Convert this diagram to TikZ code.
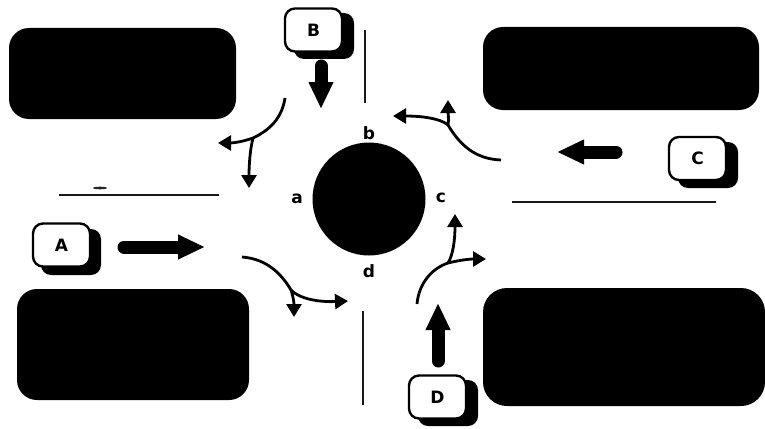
\documentclass[tikz,border=0pt]{standalone}
\usepackage{fontspec}
\setmainfont{DejaVu Sans}
\usetikzlibrary{arrows.meta}
\tikzset{
  block/.style={fill=black,draw=none,rounded corners=20pt,inner sep=0pt},
  road/.style={line width=2pt,draw=black!90},
  tag/.style={fill=white,draw=black,line width=2.4pt,rounded corners=10pt,inner sep=0pt,minimum width=57pt,minimum height=43pt,font=\fontsize{17}{17}\selectfont\bfseries},
  tagshadow/.style={fill=black,draw=none,rounded corners=10pt,inner sep=0pt,minimum width=60pt,minimum height=46pt},
  flow/.style={line width=13pt,line cap=round,-{Triangle[length=27pt,width=23pt]}},
  turn/.style={line width=2.8pt,-{Triangle[length=13pt,width=15pt]}},
  corner/.style={font=\fontsize{17}{17}\selectfont\bfseries,inner sep=0pt}
}
\begin{document}
\begin{tikzpicture}[x=1pt,y=-1pt]
\useasboundingbox (0,0) rectangle (765,428);
% blocks
\node[block,minimum width=227pt,minimum height=91pt] (tl) at (122.5,73.5) {};
\node[block,minimum width=276pt,minimum height=83pt] (tr) at (621,68.5) {};
\node[block,minimum width=232pt,minimum height=111pt] (bl) at (133,344.5) {};
\node[block,minimum width=282pt,minimum height=118pt,rounded corners=24pt] (br) at (624,347) {};
% roundabout
\node[circle,fill=black,inner sep=0pt,minimum size=113pt] (hub) at (369,199) {};
\node[corner] (la) at (297,199) {a};
\node[corner] (lb) at (369,133) {b};
\node[corner] (lc) at (441,198) {c};
\node[corner] (ld) at (369,271) {d};
% road edges
\coordinate (r1a) at (59,195); \coordinate (r1b) at (219,195);
\coordinate (r2a) at (512,202); \coordinate (r2b) at (716,202);
\coordinate (r3a) at (365,30); \coordinate (r3b) at (365,103);
\coordinate (r4a) at (363,311); \coordinate (r4b) at (363,405);
\draw[road] (r1a) -- (r1b);
\draw[road] (r2a) -- (r2b);
\draw[road] (r3a) -- (r3b);
\draw[road] (r4a) -- (r4b);
% tags
\node[tagshadow] (sa) at (71,252) {};
\node[tag] (A) at (61.5,245) {A};
\node[tagshadow] (sb) at (324,36) {};
\node[tag] (B) at (313.5,30) {B};
\node[tagshadow] (sc) at (708,165) {};
\node[tag] (C) at (697.5,158.5) {C};
\node[tagshadow] (sd) at (448,403) {};
\node[tag] (D) at (437.5,397) {D};
% flow arrows
\coordinate (fa0) at (124,247); \coordinate (fa1) at (205,247);
\coordinate (fb0) at (321,66); \coordinate (fb1) at (321,109);
\coordinate (fc0) at (616,152); \coordinate (fc1) at (557,152);
\coordinate (fd0) at (438,361); \coordinate (fd1) at (438,303);
\draw[flow] (fa0) -- (fa1);
\draw[flow] (fb0) -- (fb1);
\draw[flow] (fc0) -- (fc1);
\draw[flow] (fd0) -- (fd1);
% turning movements
\coordinate (ta0) at (242,257); \coordinate (taj) at (291,290); \coordinate (ta1) at (348,301); \coordinate (ta2) at (294,317);
\draw[turn] (ta0) .. controls (268,259) and (282,275) .. (taj) .. controls (302,301) and (325,302) .. (ta1);
\draw[turn] (taj) .. controls (293,296) and (294,302) .. (ta2);
\coordinate (tb0) at (285,98); \coordinate (tbj) at (253,138); \coordinate (tb1) at (218,143); \coordinate (tb2) at (249,188);
\draw[turn] (tb0) .. controls (282,118) and (270,130) .. (tbj) .. controls (242,142) and (232,143) .. (tb1);
\draw[turn] (tbj) .. controls (250,150) and (249,165) .. (tb2);
\coordinate (tc0) at (501,160); \coordinate (tcj) at (448,125); \coordinate (tc1) at (393,116); \coordinate (tc2) at (448,100);
\draw[turn] (tc0) .. controls (475,159) and (460,145) .. (tcj) .. controls (440,118) and (420,116) .. (tc1);
\draw[turn] (tcj) .. controls (449,120) and (448,112) .. (tc2);
\coordinate (td0) at (417,304); \coordinate (tdj) at (448,263); \coordinate (td1) at (486,259); \coordinate (td2) at (455,214);
\draw[turn] (td0) .. controls (419,282) and (433,268) .. (tdj) .. controls (460,260) and (470,259) .. (td1);
\draw[turn] (tdj) .. controls (453,255) and (455,240) .. (td2);
% smudge
\fill[black!85] (100,188) ellipse (7pt and 1.3pt);
\end{tikzpicture}
\end{document}
